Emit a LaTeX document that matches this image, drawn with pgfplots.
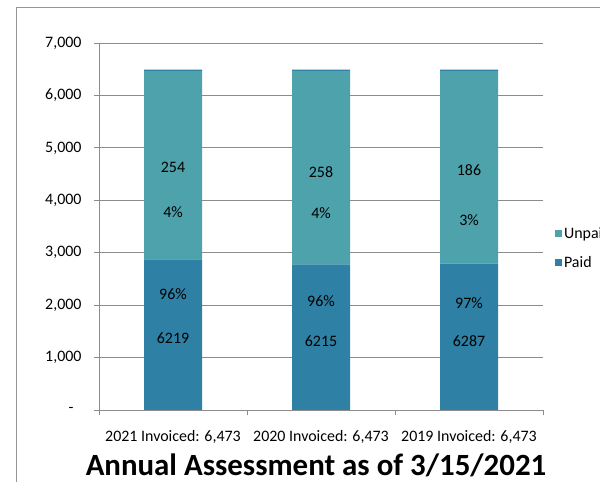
\documentclass[border=0pt]{standalone}
\usepackage{pgfplots}
\pgfplotsset{compat=1.18}
\usepackage{fontspec}
\setmainfont{Carlito}
\definecolor{unpaid}{RGB}{78,162,172}
\definecolor{paid}{RGB}{46,128,164}
\definecolor{gridgray}{RGB}{140,140,140}
\definecolor{framegray}{RGB}{150,150,150}
\newcommand{\lblfont}{\fontsize{16}{18}\selectfont}

\begin{document}
\begin{tikzpicture}
\useasboundingbox (0,0) rectangle (600bp,482bp);
\clip (0,0) rectangle (600bp,482bp);
% outer chart frame
\draw[framegray, line width=0.8bp] (16.5bp,-20bp) -- (16.5bp,474.5bp) -- (640bp,474.5bp);

\begin{axis}[
    at={(99bp,72bp)}, anchor=south west,
    scale only axis,
    width=444bp, height=367bp,
    ybar stacked,
    bar width=58bp,
    xmin=0.5, xmax=3.5,
    ymin=0, ymax=7000,
    axis x line*=bottom,
    axis y line*=left,
    axis line style={gridgray, line width=0.8bp},
    ymajorgrids,
    grid style={gridgray, line width=0.8bp},
    tick style={gridgray, line width=0.8bp},
    tick align=outside,
    major tick length=5bp,
    ytick={0,1000,2000,3000,4000,5000,6000,7000},
    yticklabels={-\hphantom{0},{1,000},{2,000},{3,000},{4,000},{5,000},{6,000},{7,000}},
    yticklabel style={font=\lblfont, xshift=-9bp},
    xtick={0.5,1.5,2.5,3.5},
    x tick label as interval,
    xticklabels={{2021 Invoiced: 6,473},{2020 Invoiced: 6,473},{2019 Invoiced: 6,473}},
    xticklabel style={font=\lblfont, yshift=-12bp},
    legend style={at={(1.02,0.441)}, anchor=west, draw=none, fill=none,
        font=\lblfont, row sep=13bp,
        /tikz/every even column/.append style={column sep=2bp}},
    legend image code/.code={\fill[#1] (0bp,-3.5bp) rectangle (7bp,3.5bp);},
    reverse legend,
    legend cell align=left,
]
\addplot[fill=paid, draw=none] coordinates {(1,2874) (2,2779) (3,2790)};
\addplot[fill=unpaid, draw=none] coordinates {(1,3596) (2,3691) (3,3680)};
\addplot[fill=paid, draw=none, forget plot] coordinates {(1,20) (2,20) (3,20)};
\legend{Paid, Unpaid}

\coordinate (a1) at (axis cs:1,4635);
\coordinate (a2) at (axis cs:1,3776);
\coordinate (a3) at (axis cs:1,2212);
\coordinate (a4) at (axis cs:1,1373);
\coordinate (b1) at (axis cs:2,4539);
\coordinate (b2) at (axis cs:2,3757);
\coordinate (b3) at (axis cs:2,2079);
\coordinate (b4) at (axis cs:2,1316);
\coordinate (c1) at (axis cs:3,4577);
\coordinate (c2) at (axis cs:3,3624);
\coordinate (c3) at (axis cs:3,2041);
\coordinate (c4) at (axis cs:3,1316);
\end{axis}

\begin{scope}[every node/.style={font=\lblfont, text=black}]
\node at (a1) {254};
\node at (a2) {4\%};
\node at (a3) {96\%};
\node at (a4) {6219};
\node at (b1) {258};
\node at (b2) {4\%};
\node at (b3) {96\%};
\node at (b4) {6215};
\node at (c1) {186};
\node at (c2) {3\%};
\node at (c3) {97\%};
\node at (c4) {6287};
\end{scope}

\node[font=\bfseries\fontsize{31}{34}\selectfont] at (316bp,17bp) {Annual Assessment as of 3/15/2021};
\end{tikzpicture}
\end{document}
